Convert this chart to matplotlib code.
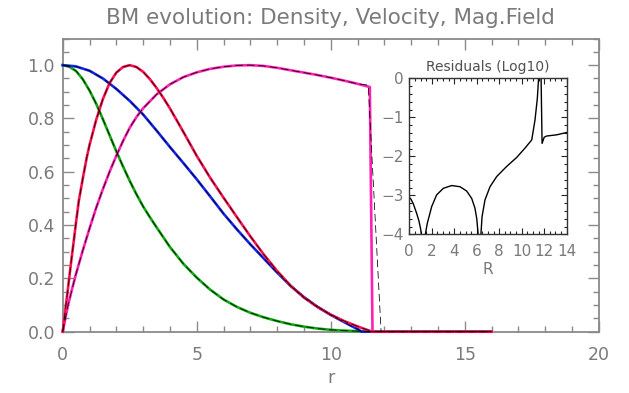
import matplotlib
matplotlib.use("Agg")
import matplotlib.pyplot as plt
from matplotlib.ticker import MultipleLocator

# ---------------- data ----------------
r_green = [0, 0.25, 0.5, 0.75, 1.0, 1.25, 1.5, 1.75, 2.0, 2.25, 2.5, 2.75, 3.0, 3.25,
           3.5, 3.75, 4.0, 4.5, 5.0, 5.5, 6.0, 6.5, 7.0, 7.5, 8.0, 8.5, 9.0, 9.5,
           10.0, 10.5, 11.0, 11.5, 16.0]
v_green = [1.0, 0.994, 0.978, 0.947, 0.905, 0.855, 0.797, 0.737, 0.677, 0.62, 0.566,
           0.516, 0.47, 0.43, 0.392, 0.355, 0.318, 0.255, 0.203, 0.158, 0.121, 0.093,
           0.071, 0.054, 0.04, 0.028, 0.019, 0.012, 0.007, 0.004, 0.002, 0.0, 0.0]

r_blue = [0, 0.5, 1.0, 1.5, 2.0, 2.5, 3.0, 3.5, 4.0, 4.5, 5.0, 5.5, 6.0, 6.5, 7.0,
          7.5, 8.0, 8.5, 9.0, 9.5, 10.0, 10.5, 10.8, 11.0, 11.15, 16.0]
v_blue = [1.0, 0.995, 0.979, 0.95, 0.911, 0.866, 0.815, 0.755, 0.693, 0.633, 0.572,
          0.508, 0.443, 0.384, 0.328, 0.275, 0.222, 0.172, 0.13, 0.094, 0.063, 0.036,
          0.02, 0.01, 0.0, 0.0]

r_red = [0, 0.1, 0.2, 0.3, 0.4, 0.5, 0.6, 0.75, 0.9, 1.0, 1.25, 1.5, 1.75, 2.0, 2.25,
         2.5, 2.75, 3.0, 3.25, 3.5, 3.75, 4.0, 4.5, 5.0, 5.5, 6.0, 6.5, 7.0, 7.5, 8.0,
         8.5, 9.0, 9.5, 10.0, 10.5, 11.0, 11.3, 11.55, 16.0]
v_red = [0.0, 0.083, 0.165, 0.25, 0.33, 0.412, 0.49, 0.575, 0.655, 0.70, 0.795, 0.873,
         0.933, 0.972, 0.993, 1.0, 0.993, 0.975, 0.948, 0.915, 0.878, 0.838, 0.75,
         0.66, 0.578, 0.503, 0.43, 0.358, 0.29, 0.228, 0.173, 0.128, 0.093, 0.064,
         0.04, 0.02, 0.009, 0.0, 0.0]

r_mag = [0, 0.1, 0.2, 0.35, 0.5, 0.75, 1.0, 1.25, 1.5, 1.75, 2.0, 2.25, 2.5, 2.75, 3.0,
         3.5, 4.0, 4.5, 5.0, 5.5, 6.0, 6.5, 7.0, 7.5, 8.0, 8.5, 9.0, 9.5, 10.0, 10.5,
         11.0, 11.46, 11.56, 16.0]
v_mag = [0.0, 0.05, 0.1, 0.16, 0.218, 0.305, 0.387, 0.465, 0.535, 0.6, 0.66, 0.715,
         0.765, 0.805, 0.838, 0.89, 0.928, 0.955, 0.973, 0.986, 0.994, 0.999, 1.0,
         0.997, 0.99, 0.981, 0.972, 0.963, 0.953, 0.942, 0.93, 0.918, 0.0, 0.0]

# analytic magenta profile (differs only at the shock)
r_mag_an = [0, 0.1, 0.2, 0.35, 0.5, 0.75, 1.0, 1.25, 1.5, 1.75, 2.0, 2.25, 2.5, 2.75,
            3.0, 3.5, 4.0, 4.5, 5.0, 5.5, 6.0, 6.5, 7.0, 7.5, 8.0, 8.5, 9.0, 9.5,
            10.0, 10.5, 11.0, 11.4, 11.88, 16.0]
v_mag_an = [0.0, 0.05, 0.1, 0.16, 0.218, 0.305, 0.387, 0.465, 0.535, 0.6, 0.66, 0.715,
            0.765, 0.805, 0.838, 0.89, 0.928, 0.955, 0.973, 0.986, 0.994, 0.999, 1.0,
            0.997, 0.99, 0.981, 0.972, 0.963, 0.953, 0.942, 0.93, 0.925, 0.0, 0.0]

# residuals (log10)
r_res = [0.0, 0.15, 0.36, 0.65, 0.85, 1.0, 1.1, 1.25, 1.4, 1.5, 1.6, 1.99, 2.43, 3.03,
         3.77, 4.51, 5.1, 5.55, 5.84, 6.0, 6.14, 6.25, 6.36, 6.47, 6.73, 7.18, 7.77,
         8.66, 9.55, 10.29, 10.89, 11.18, 11.39, 11.5, 11.58, 11.69, 11.81, 12.0,
         12.22, 13.1, 14.0]
v_res = [-3.05, -3.1, -3.22, -3.46, -3.65, -3.85, -4.05, -4.8, -4.05, -3.88, -3.72,
         -3.29, -2.99, -2.82, -2.75, -2.78, -2.89, -3.08, -3.33, -3.6, -4.05, -4.8,
         -4.05, -3.55, -3.12, -2.78, -2.52, -2.26, -2.03, -1.79, -1.58, -1.07, -0.51,
         0.0, 0.6, 0.6, -1.67, -1.51, -1.48, -1.45, -1.39]

title = "BM evolution: Density, Velocity, Mag.Field"
x_ticks = [0, 5, 10, 15, 20]
y_ticks = [0.0, 0.2, 0.4, 0.6, 0.8, 1.0]

# ---------------- styling ----------------
W, H = 629, 393
GRAY = "#8a8a8a"
TXT = "#7a7a7a"
C_GREEN = "#10a810"
C_BLUE = "#1424f0"
C_RED = "#ff1050"
C_MAG = "#ff20b4"
DASH = (0, (10, 5))

fig = plt.figure(figsize=(W / 100, H / 100), dpi=100)
ax = fig.add_axes([62.7 / W, 1 - 331.7 / H, 536 / W, (331.7 - 38.5) / H])

for rr, vv, c in [(r_green, v_green, C_GREEN), (r_blue, v_blue, C_BLUE),
                  (r_mag, v_mag, C_MAG), (r_red, v_red, C_RED)]:
    ax.plot(rr, vv, color=c, lw=1.9, solid_joinstyle="round", clip_on=False, zorder=2)
for rr, vv in [(r_green, v_green), (r_blue, v_blue), (r_mag_an, v_mag_an), (r_red, v_red)]:
    ax.plot(rr, vv, color="black", lw=0.55, linestyle=DASH, clip_on=False, zorder=3)

ax.set_xlim(0, 20)
ax.set_ylim(0, 1.1)
ax.set_xticks(x_ticks)
ax.set_xticklabels([str(t) for t in x_ticks])
ax.set_yticks(y_ticks)
ax.set_yticklabels([f"{t:.1f}" for t in y_ticks])
ax.xaxis.set_minor_locator(MultipleLocator(1))
ax.yaxis.set_minor_locator(MultipleLocator(0.05))
ax.tick_params(which="both", direction="in", top=True, right=True, color=GRAY,
               labelcolor=TXT, width=1.0)
ax.tick_params(which="major", length=8)
ax.tick_params(which="minor", length=4)
ax.tick_params(axis="x", which="major", pad=10, labelsize=12.5)
ax.tick_params(axis="y", which="major", pad=5.5, labelsize=12.5)
for s in ax.spines.values():
    s.set_color(GRAY)
    s.set_linewidth(1.3)
    s.set_zorder(1)

fig.text(0.5257, 1 - 18.5 / H, title, ha="center", va="center", color=TXT, fontsize=15.5)
fig.text(0.5257, 1 - 378 / H, "r", ha="center", va="center", color=TXT, fontsize=12.5)

# ---------------- inset ----------------
ia = fig.add_axes([409.3 / W, 1 - 234.3 / H, 157.4 / W, 156 / H])
ia.plot(r_res, v_res, color="black", lw=1.0)
ia.set_xlim(0, 14)
ia.set_ylim(-4, 0)
ia.set_xticks(list(range(0, 15, 2)))
ia.set_yticks([0, -1, -2, -3, -4])
ia.set_yticklabels(["0", "\u22121", "\u22122", "\u22123", "\u22124"])
ia.xaxis.set_minor_locator(MultipleLocator(0.5))
ia.yaxis.set_minor_locator(MultipleLocator(0.2))
ia.tick_params(which="both", direction="in", top=True, right=True, color="#222222",
               labelcolor=TXT, width=0.8)
ia.tick_params(which="major", length=4)
ia.tick_params(which="minor", length=2)
ia.tick_params(axis="x", which="major", pad=7, labelsize=11)
ia.tick_params(axis="y", which="major", pad=4, labelsize=11)
for s in ia.spines.values():
    s.set_color("#333333")
    s.set_linewidth(1.0)
fig.text(488 / W, 1 - 67 / H, "Residuals (Log10)", ha="center", va="center",
         color="#505050", fontsize=10)
fig.text(488 / W, 1 - 270 / H, "R", ha="center", va="center", color=TXT, fontsize=11)

fig.savefig("out.png", dpi=100)
